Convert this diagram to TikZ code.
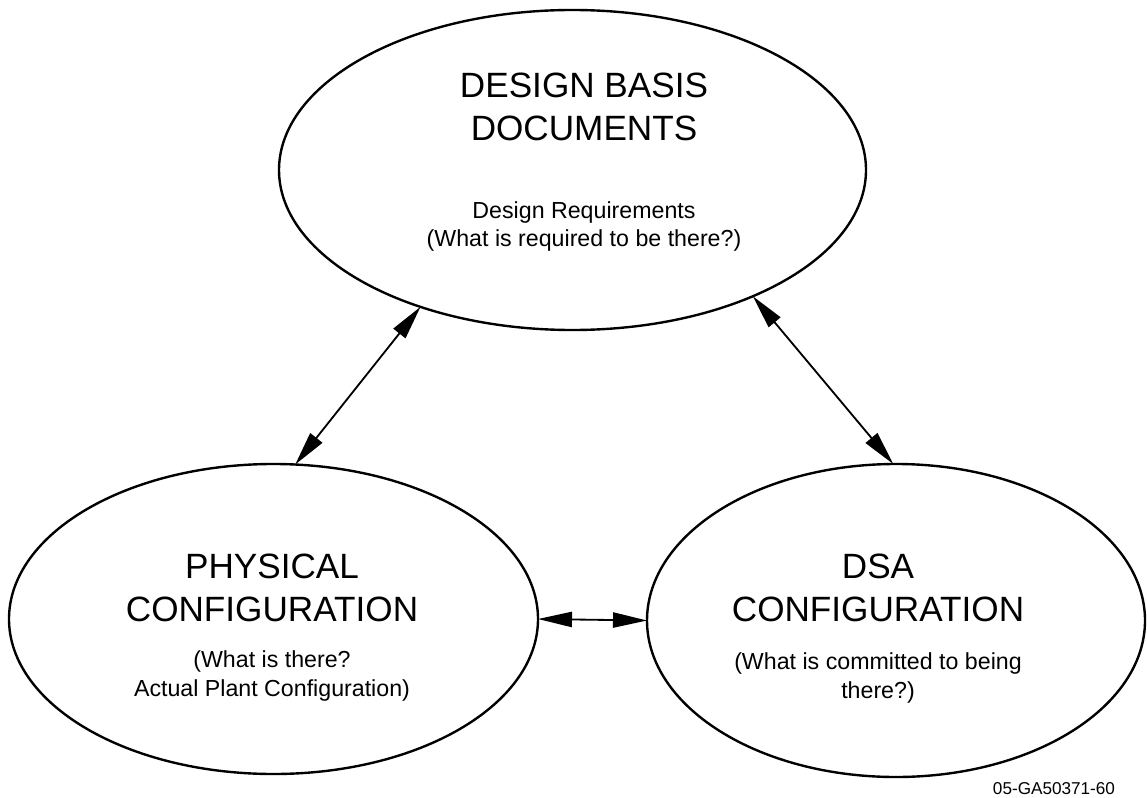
\documentclass[tikz,border=0pt]{standalone}
\usepackage{fontspec}
\setmainfont{Liberation Sans}
\usetikzlibrary{shapes.geometric,arrows.meta}

\begin{document}
\begin{tikzpicture}[line width=1.7pt]
\tikzstyle{bubble}=[ellipse,draw,inner sep=0pt,outer sep=0pt]
\tikzstyle{title}=[align=center,font=\fontsize{25}{30.6}\selectfont]
\tikzstyle{note}=[align=center,font=\fontsize{16.5}{20.6}\selectfont]
\tikzstyle{link}=[{Triangle[length=0.85cm,width=0.38cm]}-{Triangle[length=0.85cm,width=0.38cm]},line width=1.3pt]

\useasboundingbox (0,0) rectangle (28.675,-19.925);

% Draw the three ellipses
\node[bubble,minimum width=14.675cm,minimum height=8.0cm] (design) at (14.3125,-4.25) {};
\node[bubble,minimum width=13.225cm,minimum height=7.75cm] (phys) at (6.8375,-15.475) {};
\node[bubble,minimum width=12.45cm,minimum height=7.825cm] (dsa) at (22.4,-15.5125) {};

% Texts inside the ellipses
\node[title] (design-t) at (14.6,-2.6625) {DESIGN BASIS\\DOCUMENTS};
\node[note] (design-n) at (14.6,-5.6625) {Design Requirements\\(What is required to be there?)};
\node[title] (phys-t) at (6.8,-14.6875) {PHYSICAL\\CONFIGURATION};
\node[note] (phys-n) at (6.8,-16.9) {(What is there?\\Actual Plant Configuration)};
\node[title] (dsa-t) at (21.95,-14.6875) {DSA\\CONFIGURATION};
\node[note] (dsa-n) at (21.95,-16.95) {(What is committed to being\\there?)};

% Connect the ellipses
\draw[link] (design.222) -- (phys.82);
\draw[link] (design.325) -- (dsa.91);
\draw[link] (phys.east) -- (dsa.west);

% Drawing number
\node[font=\fontsize{12.2}{14}\selectfont] (num) at (26.35,-19.725) {05-GA50371-60};
\end{tikzpicture}
\end{document}
